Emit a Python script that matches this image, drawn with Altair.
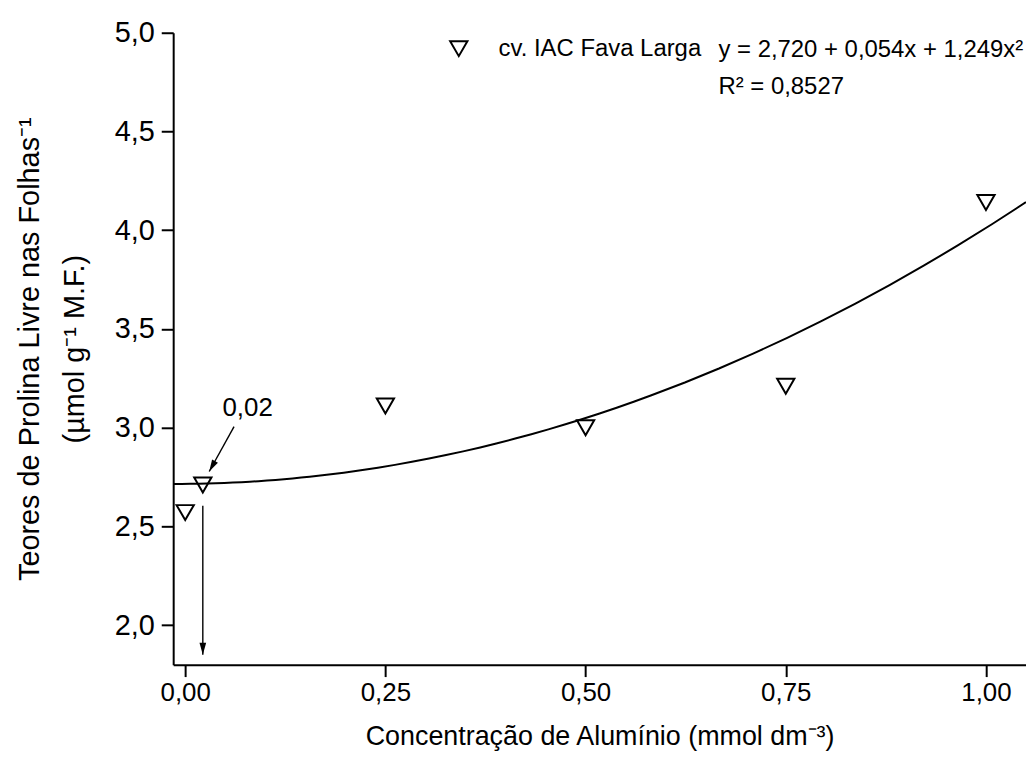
import altair as alt
import pandas as pd

# ---- data ----
conc = [0.00, 0.25, 0.50, 0.75, 1.00]          # mmol dm-3
prolina = [2.57, 3.11, 3.00, 3.21, 4.14]       # umol g-1 M.F.
cultivar = "cv. IAC Fava Larga"

vertex_x = [0.022]
vertex_y = [2.71]

x_ticks = [0.0, 0.25, 0.5, 0.75, 1.0]
y_ticks = [2.0, 2.5, 3.0, 3.5, 4.0, 4.5, 5.0]
x_domain = [-0.015, 1.05]
y_domain = [1.8, 5.0]

arrow_x1 = [0.061, 0.022]
arrow_y1 = [3.005, 2.605]
arrow_x2 = [0.030, 0.022]
arrow_y2 = [2.778, 1.85]
arrow_angle = [29, 0]

note_text = ["0,02"]
note_x = [0.078]
note_y = [3.10]

eq_text = ["y = 2,720 + 0,054x + 1,249x²", "R² = 0,8527"]
eq_x = [0.666, 0.666]
eq_y = [4.879, 4.69]

FONT = "Liberation Sans"
X_TITLE = "Concentração de Alumínio (mmol dm⁻³)"
Y_TITLE = ["Teores de Prolina Livre nas Folhas⁻¹", "(µmol g⁻¹ M.F.)"]

pts = pd.DataFrame({"conc": conc, "prolina": prolina, "serie": [cultivar] * len(conc)})
vtx = pd.DataFrame({"conc": vertex_x, "prolina": vertex_y})
arr = pd.DataFrame({"x1": arrow_x1, "y1": arrow_y1, "x2": arrow_x2, "y2": arrow_y2, "ang": arrow_angle})
note = pd.DataFrame({"t": note_text, "x": note_x, "y": note_y})
eq = pd.DataFrame({"t": eq_text, "x": eq_x, "y": eq_y})

xs = alt.Scale(domain=x_domain, nice=False, zero=False)
ys = alt.Scale(domain=y_domain, nice=False, zero=False)

x_axis = alt.Axis(
    values=x_ticks,
    labelExpr="replace(format(datum.value, '.2f'), '.', ',')",
    title=X_TITLE,
    grid=False,
    labelFont=FONT, labelFontSize=26, labelColor="black", labelPadding=3,
    titleFont=FONT, titleFontSize=27, titleFontWeight="normal", titleColor="black",
    titlePadding=18,
    domainColor="black", domainWidth=2, tickColor="black", tickWidth=2, tickSize=12,
)
y_axis = alt.Axis(
    values=y_ticks,
    labelExpr="replace(format(datum.value, '.1f'), '.', ',')",
    title=Y_TITLE,
    grid=False,
    labelFont=FONT, labelFontSize=29, labelColor="black", labelPadding=7,
    titleFont=FONT, titleFontSize=29, titleFontWeight="normal", titleColor="black",
    titleLineHeight=45, titleX=-129,
    domainColor="black", domainWidth=2, tickColor="black", tickWidth=2, tickSize=12,
)


def X(field):
    return alt.X(field, scale=xs, axis=x_axis, title=X_TITLE)


def Y(field):
    return alt.Y(field, scale=ys, axis=y_axis, title=Y_TITLE)


points = alt.Chart(pts).mark_point(filled=False, size=300, strokeWidth=2, color="black", opacity=1).encode(
    x=X("conc:Q"),
    y=Y("prolina:Q"),
    shape=alt.Shape(
        "serie:N",
        scale=alt.Scale(domain=[cultivar], range=["triangle-down"]),
        legend=alt.Legend(
            title=None, orient="none", legendX=275, legendY=4, padding=0,
            labelFont=FONT, labelFontSize=24, labelColor="black", labelOffset=28,
            labelLimit=400,
            symbolSize=300, symbolStrokeWidth=2, symbolStrokeColor="black",
        ),
    ),
)

fit = alt.Chart(pts).transform_regression(
    "conc", "prolina", method="poly", order=2, extent=x_domain
).mark_line(color="black", strokeWidth=2, clip=True).encode(
    x=X("conc:Q"),
    y=Y("prolina:Q"),
)

vertex = alt.Chart(vtx).mark_point(shape="triangle-down", filled=False, size=300, strokeWidth=2,
                                   color="black", opacity=1).encode(
    x=X("conc:Q"),
    y=Y("prolina:Q"),
)

lines = alt.Chart(arr).mark_rule(color="black", strokeWidth=1.4).encode(
    x=X("x1:Q"),
    y=Y("y1:Q"),
    x2="x2:Q",
    y2="y2:Q",
)

heads = alt.Chart(arr).mark_point(shape="M0,0L-0.28,-1L0.28,-1Z", filled=True, size=576,
                                  color="black", opacity=1, strokeWidth=0).encode(
    x=X("x2:Q"),
    y=Y("y2:Q"),
    angle=alt.Angle("ang:Q", scale=None),
)

note_mark = alt.Chart(note).mark_text(font=FONT, fontSize=26, color="black", align="center",
                                      baseline="middle").encode(
    x=X("x:Q"),
    y=Y("y:Q"),
    text="t:N",
)

eq_mark = alt.Chart(eq).mark_text(font=FONT, fontSize=24, color="black", align="left",
                                  baseline="alphabetic").encode(
    x=X("x:Q"),
    y=Y("y:Q"),
    text="t:N",
)

chart = alt.layer(points, fit, vertex, lines, heads, note_mark, eq_mark).properties(
    width=857, height=635,
    padding={"left": 166, "top": 23, "right": 0, "bottom": 100},
    autosize=alt.AutoSizeParams(type="none"),
    background="white",
).configure_view(stroke="transparent")

chart.save("out.html", embed_options={"renderer": "svg", "actions": False})
